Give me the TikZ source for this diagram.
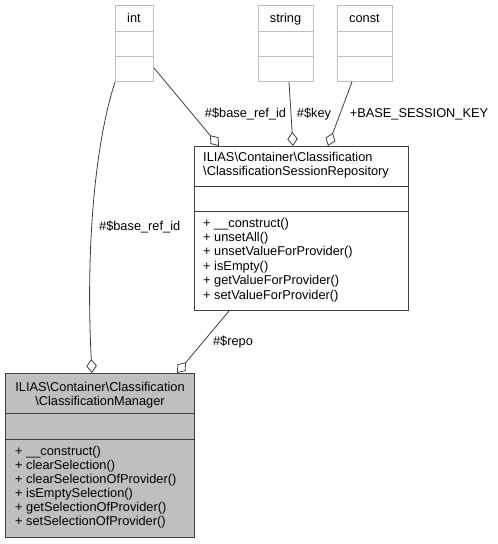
\documentclass[tikz,border=0pt]{standalone}
\usepackage{fontspec}
\setmainfont{Liberation Sans}
\usetikzlibrary{arrows.meta}
\definecolor{edgec}{HTML}{404040}
\definecolor{lightb}{HTML}{BFBFBF}
\definecolor{mgrfill}{HTML}{BFBFBF}
\newcommand\fs{\fontsize{12.8}{14.4}\selectfont}
\tikzset{
  classbox/.style={draw=edgec, line width=1pt, inner sep=0, anchor=north west},
  typebox/.style={draw=lightb, line width=1pt, inner sep=0, anchor=north west},
  txt/.style={inner sep=0, font=\fs, anchor=base west},
  ctxt/.style={inner sep=0, font=\fs, anchor=base},
  rel/.style={draw=edgec, line width=0.8pt, -{Diamond[open, length=14pt, width=10.5pt]}},
  lbl/.style={inner sep=0, font=\fs, anchor=base}
}
\begin{document}
\begin{tikzpicture}[x=1pt,y=-1pt]
\useasboundingbox[fill=white] (0,0) rectangle (498,544);
% type boxes
\node[typebox, minimum width=38, minimum height=76] (int) at (115,5) {};
\draw[lightb, line width=1pt] (115,31) -- (153,31) (115,56) -- (153,56);
\node[ctxt] (intT) at (134,22.7) {int};
\node[typebox, minimum width=55, minimum height=76] (string) at (258,5) {};
\draw[lightb, line width=1pt] (258,31) -- (313,31) (258,56) -- (313,56);
\node[ctxt] (stringT) at (285.5,22.7) {string};
\node[typebox, minimum width=55, minimum height=76] (const) at (337,5) {};
\draw[lightb, line width=1pt] (337,31) -- (392,31) (337,56) -- (392,56);
\node[ctxt] (constT) at (364.5,22.7) {const};
% repository
\node[classbox, fill=white, minimum width=214, minimum height=164] (repo) at (194,146) {};
\draw[edgec, line width=1pt] (194,186.5) -- (408,186.5) (194,211) -- (408,211);
\node[txt] (repoT1) at (203,161.5) {ILIAS\textbackslash Container\textbackslash Classification};
\node[txt] (repoT2) at (203,175.5) {\textbackslash ClassificationSessionRepository};
\foreach \t [count=\i from 0] in {+ \_\_construct(), + unsetAll(), + unsetValueForProvider(), + isEmpty(), + getValueForProvider(), + setValueForProvider()}
  \node[txt] (repoM\i) at (203,227+14.4*\i) {\t};
% manager
\node[classbox, fill=mgrfill, minimum width=189, minimum height=164] (mgr) at (5,373) {};
\draw[edgec, line width=1pt] (5,413) -- (194,413) (5,439) -- (194,439);
\node[ctxt] (mgrT1) at (100,391) {ILIAS\textbackslash Container\textbackslash Classification};
\node[ctxt] (mgrT2) at (100,405) {\textbackslash ClassificationManager};
\foreach \t [count=\i from 0] in {+ \_\_construct(), + clearSelection(), + clearSelectionOfProvider(), + isEmptySelection(), + getSelectionOfProvider(), + setSelectionOfProvider()}
  \node[txt] (mgrM\i) at (15,455.5+14*\i) {\t};
% relations
\draw[rel] ([yshift=14pt]int.south east) -- ([xshift=25pt]repo.north west);
\draw[rel] ([xshift=3pt]string.south) -- ([xshift=99pt]repo.north west);
\draw[rel] ([xshift=-13pt]const.south) -- ([xshift=134pt]repo.north west);
\draw[rel] (int.south west) .. controls (93,150) and (86,260) .. ([xshift=87pt]mgr.north west);
\draw[rel] ([xshift=35pt]repo.south west) -- ([xshift=172pt]mgr.north west);
% labels
\node[lbl] (l1) at (245.5,117) {\#\$base\_ref\_id};
\node[lbl] (l2) at (314,117) {\#\$key};
\node[lbl] (l3) at (419,117) {+BASE\_SESSION\_KEY};
\node[lbl] (l4) at (139.7,230) {\#\$base\_ref\_id};
\node[lbl] (l5) at (233,345) {\#\$repo};
\end{tikzpicture}
\end{document}
